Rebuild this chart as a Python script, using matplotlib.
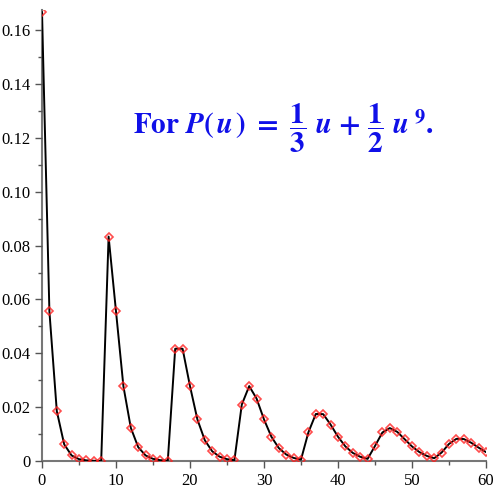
import numpy as np
import matplotlib.pyplot as plt
from matplotlib.ticker import MultipleLocator

plt.rcParams['mathtext.fontset'] = 'stix'

n = np.arange(0, 61)
prob = [0.166667, 0.055556, 0.018519, 0.006173, 0.002058, 0.000686, 0.000229, 0.000076, 0.000025,
        0.083342, 0.055559, 0.027779, 0.012346, 0.005144, 0.002058, 0.000800, 0.000305, 0.000114,
        0.041709, 0.041683, 0.027784, 0.015434, 0.007717, 0.003601, 0.001600, 0.000686, 0.000286,
        0.020950, 0.027825, 0.023167, 0.015439, 0.009005, 0.004803, 0.002401, 0.001143, 0.000524,
        0.010650, 0.017463, 0.017405, 0.013522, 0.009010, 0.005405, 0.003003, 0.001573, 0.000786,
        0.005587, 0.010594, 0.012234, 0.010839, 0.008118, 0.005409, 0.003305, 0.001889, 0.001023,
        0.003135, 0.006342, 0.008231, 0.008164, 0.006780, 0.004965, 0.003308]

fig = plt.figure(figsize=(5, 5), dpi=100, facecolor='white')
ax = fig.add_axes((0.084, 0.078, 0.888, 0.902))
ax.plot(n, prob, color='black', lw=1.4, zorder=2)
ax.plot(n, prob, ls='none', marker='D', ms=4.5, mfc='none', mec='#ff2020',
        mew=1.2, alpha=0.8, zorder=3)

ax.set_xlim(0, 60)
ax.set_ylim(0, 0.1675)
for s in ['top', 'right']:
    ax.spines[s].set_visible(False)
for s in ['left', 'bottom']:
    ax.spines[s].set_color('#777777')
    ax.spines[s].set_linewidth(1.5)
    ax.spines[s].set_zorder(1)

ax.xaxis.set_major_locator(MultipleLocator(10))
ax.xaxis.set_minor_locator(MultipleLocator(5))
ax.yaxis.set_minor_locator(MultipleLocator(0.01))
ax.set_yticks(np.arange(0, 0.161, 0.02))
ax.set_yticklabels(['0', '0.02', '0.04', '0.06', '0.08', '0.10', '0.12', '0.14', '0.16'])
ax.tick_params(which='major', length=5, width=1, color='#555555', labelsize=12)
ax.tick_params(which='minor', length=3, width=1, color='#555555')
for lab in ax.get_xticklabels() + ax.get_yticklabels():
    lab.set_family('Liberation Serif')

ax.text(0.543, 0.738,
        r'$\mathbf{For}\ \mathbfit{P}\mathbf{(}\,\mathbfit{u}\,\mathbf{)}\ \mathbf{=}\ '
        r'\dfrac{\mathbf{1}}{\mathbf{3}}\ \mathbfit{u}\ \mathbf{+}\ '
        r'\dfrac{\mathbf{1}}{\mathbf{2}}\ \mathbfit{u}^{\ \mathbf{9}}\mathbf{.}$',
        transform=ax.transAxes, ha='center', va='center', fontsize=21, color='#1010e8')

fig.savefig('out.png', dpi=100, facecolor='white')
